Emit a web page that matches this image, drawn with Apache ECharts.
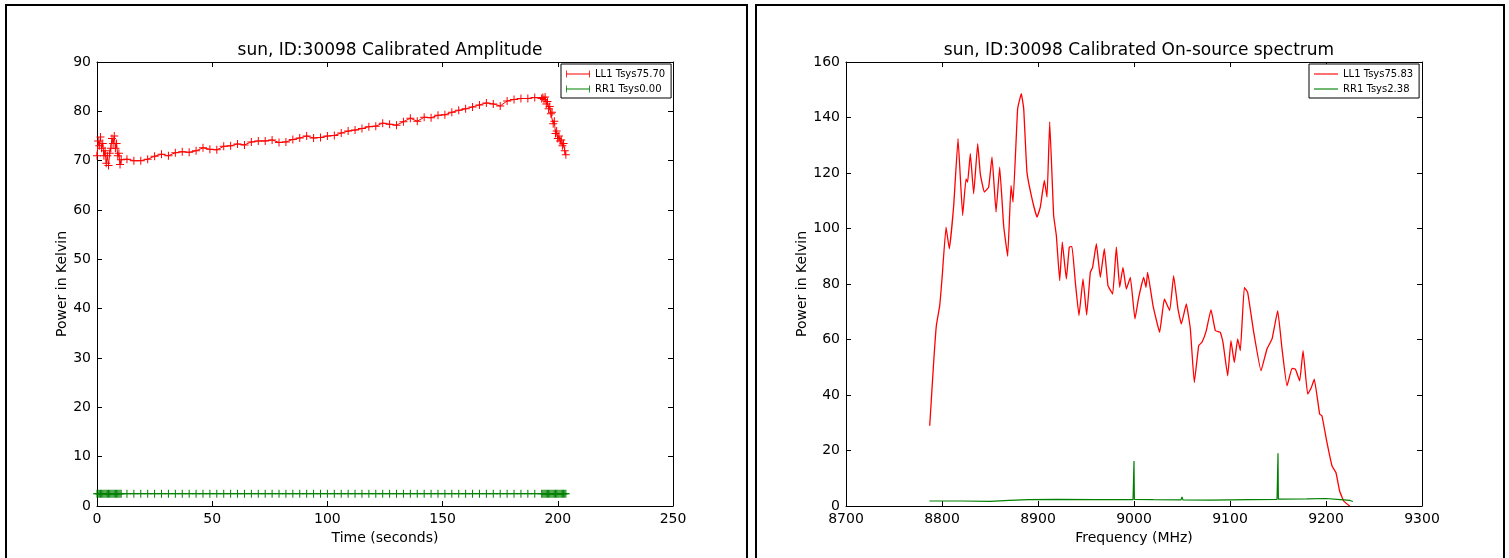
<!DOCTYPE html>
<html>
<head>
<meta charset="utf-8">
<script src="https://cdn.jsdelivr.net/npm/echarts@6/dist/echarts.min.js"></script>
<style>
  html, body { margin: 0; padding: 0; background: #fff; }
  #chart { width: 1509px; height: 558px; }
</style>
</head>
<body>
<div id="chart"></div>
<script>
// ---- left panel: calibrated amplitude vs time ----
var ampTime = [
  0, 0.5, 1, 1.5, 2, 2.5, 3, 3.5, 4, 4.5, 5, 5.5, 6, 6.5, 7, 7.5, 8, 8.5, 9, 9.5, 10, 10.5,
  13, 16, 19, 22, 25, 28, 31, 34, 37, 40, 43, 46, 49, 52, 55, 58, 61, 64, 67, 70,
  73, 76, 79, 82, 85, 88, 91, 94, 97, 100, 103, 106, 109, 112, 115, 118, 121, 124, 127, 130,
  133, 136, 139, 142, 145, 148, 151, 154, 157, 160, 163, 166, 169, 172, 175, 178, 181, 184, 187, 190,
  193, 193.5, 194, 194.5, 195, 195.5, 196, 196.5, 197, 197.5, 198, 198.5, 199, 199.5, 200, 200.5,
  201, 201.5, 202, 202.5, 203, 203.5
];
var ll1Amp = [
  71, 74, 73, 74.8, 72.5, 73.5, 71, 72, 69.5, 71, 69, 71.5, 72.5, 74.5, 73.5, 75, 72.5, 73.5, 71, 71.5, 69.2, 70.2,
  70.3, 70.0, 70.0, 70.3, 70.9, 71.3, 71.0, 71.6, 71.8, 71.7, 72.0, 72.6, 72.3, 72.2, 72.9, 73.0, 73.4, 73.2, 73.8, 74.0,
  74.0, 74.2, 73.7, 73.8, 74.3, 74.6, 75.0, 74.6, 74.7, 75.0, 75.1, 75.6, 76.0, 76.2, 76.5, 76.9, 77.0, 77.6, 77.4, 77.2,
  77.9, 78.6, 78.0, 78.8, 78.7, 79.2, 79.3, 79.8, 80.2, 80.5, 80.9, 81.3, 81.7, 81.5, 81.1, 82.1, 82.4, 82.6, 82.6, 82.8,
  82.6, 82.8, 82.4, 82.9, 81.5, 82.0, 80.5, 81.0, 79.5, 79.8, 77.5, 78.0, 75.5, 76.0, 74.5, 75.0,
  74.0, 74.2, 73.0, 73.5, 72.0, 71.2
];
var rr1Amp = [
  2.5, 2.5, 2.5, 2.5, 2.5, 2.5, 2.5, 2.5, 2.5, 2.5, 2.5, 2.5, 2.5, 2.5, 2.5, 2.5, 2.5, 2.5, 2.5, 2.5, 2.5, 2.5,
  2.5, 2.5, 2.5, 2.5, 2.5, 2.5, 2.5, 2.5, 2.5, 2.5, 2.5, 2.5, 2.5, 2.5, 2.5, 2.5, 2.5, 2.5, 2.5, 2.5,
  2.5, 2.5, 2.5, 2.5, 2.5, 2.5, 2.5, 2.5, 2.5, 2.5, 2.5, 2.5, 2.5, 2.5, 2.5, 2.5, 2.5, 2.5, 2.5, 2.5,
  2.5, 2.5, 2.5, 2.5, 2.5, 2.5, 2.5, 2.5, 2.5, 2.5, 2.5, 2.5, 2.5, 2.5, 2.5, 2.5, 2.5, 2.5, 2.5, 2.5,
  2.5, 2.5, 2.5, 2.5, 2.5, 2.5, 2.5, 2.5, 2.5, 2.5, 2.5, 2.5, 2.5, 2.5, 2.5, 2.5,
  2.5, 2.5, 2.5, 2.5, 2.5, 2.5
];

// ---- right panel: on-source spectrum ----
var ll1Freq = [
  8787.2, 8791.3, 8794.1, 8797.6, 8800, 8804.2, 8807.6, 8812.2, 8816.7, 8821.5,
  8825, 8826.7, 8829.5, 8833, 8837.2, 8839.9, 8844.1, 8848.6, 8852.1, 8856.3,
  8860.1, 8864.2, 8868.4, 8871.9, 8874, 8878.8, 8882.6, 8885.1, 8888.5, 8893.8,
  8899, 8902.4, 8906.6, 8909.4, 8912.2, 8916.3, 8919.1, 8922.6, 8925.3, 8929.5,
  8932.6, 8935.4, 8938.9, 8942.7, 8946.9, 8950.7, 8954.5, 8956.9, 8960.8, 8964.9,
  8969.1, 8972.9, 8977.8, 8981.6, 8985.1, 8988.5, 8992, 8996.2, 9001, 9004.9,
  9010.1, 9012.5, 9014.2, 9019.8, 9026.7, 9031.6, 9037.2, 9041.3, 9045.8, 9049.3,
  9054.5, 9058.7, 9062.8, 9067.4, 9070.8, 9075.3, 9080.2, 9084.7, 9089.9, 9092.7,
  9097.6, 9101, 9104.5, 9108, 9110.8, 9114.9, 9118.4, 9124.7, 9132.3, 9138.5,
  9143.8, 9149.7, 9154.2, 9159.4, 9164.6, 9168.1, 9172.6, 9176.1, 9180.9, 9184.4,
  9187.8, 9193.4, 9195.8, 9201, 9206.3, 9210.4, 9214.2, 9218.4, 9224.7
];
var ll1Spec = [
  28.9, 51.7, 65, 72.2, 81.8, 100.5, 92.7, 108.3, 132.4, 104.7,
  117.9, 116.7, 127, 112.5, 130.6, 119.7, 113.1, 114.9, 125.8, 105.9,
  122.1, 101.1, 90, 115.5, 109.5, 143.2, 148.6, 143.2, 120.3, 110.7,
  104.1, 107.7, 117.3, 111.3, 138.4, 104.7, 97.5, 81.2, 95.1, 81.8,
  93.3, 93.5, 80.6, 68.6, 81.8, 68.8, 84.2, 86, 94.5, 82.4,
  92.7, 79.4, 76.4, 93.3, 78.8, 86, 78.2, 82.4, 67.4, 75.2,
  82.4, 78.8, 84.2, 72.2, 62.6, 74.6, 70.4, 83, 71, 65.6,
  72.8, 63.8, 44.5, 57.8, 59, 63.2, 70.8, 63.2, 62.6, 59,
  46.9, 59.6, 51.7, 60.2, 56, 78.8, 77, 62.6, 48.7, 56.6,
  60.2, 70.4, 56.6, 43.3, 49.6, 49.3, 45.1, 56, 40.3, 42.4,
  45.7, 33.1, 32.5, 22.9, 14.4, 12, 5.4, 1.8, 0
];
var rr1Freq = [
  8787, 8820, 8850, 8870, 8890, 8920, 8960, 8999, 8999.6, 9000, 9000.4, 9020, 9049, 9050, 9051,
  9080, 9120, 9149, 9149.6, 9150, 9150.4, 9180, 9200, 9215, 9225, 9228
];
var rr1Spec = [
  1.8, 1.8, 1.7, 2.0, 2.3, 2.4, 2.3, 2.3, 2.3, 16.2, 2.4, 2.3, 2.2, 3.3, 2.2,
  2.1, 2.3, 2.4, 2.4, 19, 2.5, 2.6, 2.7, 2.3, 2.0, 1.6
];

function pairs(xs, ys) {
  return xs.map(function (x, i) { return [x, ys[i]]; });
}

var FONT = "DejaVu Sans";
var plus = "path://M0,3.5h8v1h-8z M3.5,0h1v8h-1z";
var markIcon = "path://M0,4h30v1h-30z M0,0h1v9h-1z M29,0h1v9h-1z";
var lineIcon = "path://M0,4h30v1.4h-30z";

function xAxisOf(grid, min, max, interval, name, top) {
  return {
    type: "value", gridIndex: grid, min: min, max: max, interval: interval,
    position: top ? "top" : "bottom",
    name: top ? "" : name, nameLocation: "middle", nameGap: 20,
    nameTextStyle: { color: "#000", fontSize: 14, fontFamily: FONT },
    axisLine: { show: true, onZero: false, lineStyle: { color: "#000", width: 1 } },
    axisTick: { show: true, inside: true, length: 5, lineStyle: { color: "#000" } },
    axisLabel: { show: !top, color: "#000", fontSize: 14, fontFamily: FONT, margin: 6,
      formatter: function (v) { return String(v); } },
    splitLine: { show: false },
  };
}
function yAxisOf(grid, min, max, interval, name, right, gap) {
  return {
    type: "value", gridIndex: grid, min: min, max: max, interval: interval,
    position: right ? "right" : "left",
    name: right ? "" : name, nameLocation: "middle", nameGap: gap,
    nameTextStyle: { color: "#000", fontSize: 14, fontFamily: FONT },
    axisLine: { show: true, onZero: false, lineStyle: { color: "#000", width: 1 } },
    axisTick: { show: true, inside: true, length: 5, lineStyle: { color: "#000" } },
    axisLabel: { show: !right, color: "#000", fontSize: 14, fontFamily: FONT, margin: 6 },
    splitLine: { show: false },
  };
}

var myChart = echarts.init(document.getElementById("chart"));
var option = {
  animation: false,
  backgroundColor: "#fff",
  graphic: [
    { type: "rect", shape: { x: 6, y: 5, width: 741, height: 570 }, style: { fill: "none", stroke: "#000", lineWidth: 2 } },
    { type: "rect", shape: { x: 756, y: 5, width: 748, height: 570 }, style: { fill: "none", stroke: "#000", lineWidth: 2 } },
  ],
  title: [
    { text: "sun, ID:30098 Calibrated Amplitude", left: 385, top: 37, textAlign: "center",
      textStyle: { color: "#000", fontSize: 17, fontWeight: "normal", fontFamily: FONT } },
    { text: "sun, ID:30098 Calibrated On-source spectrum", left: 1134, top: 37, textAlign: "center",
      textStyle: { color: "#000", fontSize: 17, fontWeight: "normal", fontFamily: FONT } },
  ],
  legend: [
    { data: [{ name: "LL1 Tsys75.70", icon: markIcon }, { name: "RR1 Tsys0.00", icon: markIcon }],
      orient: "vertical", left: 561, top: 64, itemWidth: 24, itemHeight: 8, itemGap: 5,
      padding: [5, 6, 4, 5], borderColor: "#000", borderWidth: 1, backgroundColor: "#fff",
      textStyle: { color: "#000", fontSize: 10, fontFamily: FONT } },
    { data: [{ name: "LL1 Tsys75.83", icon: lineIcon }, { name: "RR1 Tsys2.38", icon: lineIcon }],
      orient: "vertical", left: 1309, top: 64, itemWidth: 24, itemHeight: 8, itemGap: 5,
      padding: [5, 6, 4, 5], borderColor: "#000", borderWidth: 1, backgroundColor: "#fff",
      textStyle: { color: "#000", fontSize: 10, fontFamily: FONT } },
  ],
  grid: [
    { left: 97, top: 62, width: 576, height: 444 },
    { left: 846, top: 62, width: 576, height: 444 },
  ],
  xAxis: [
    xAxisOf(0, 0, 250, 50, "Time (seconds)", false),
    xAxisOf(0, 0, 250, 50, "", true),
    xAxisOf(1, 8700, 9300, 100, "Frequency (MHz)", false),
    xAxisOf(1, 8700, 9300, 100, "", true),
  ],
  yAxis: [
    yAxisOf(0, 0, 90, 10, "Power in Kelvin", false, 25),
    yAxisOf(0, 0, 90, 10, "", true, 0),
    yAxisOf(1, 0, 160, 20, "Power in Kelvin", false, 34),
    yAxisOf(1, 0, 160, 20, "", true, 0),
  ],
  series: [
    {
      name: "LL1 Tsys75.70", type: "line", xAxisIndex: 0, yAxisIndex: 0,
      data: pairs(ampTime, ll1Amp),
      symbol: plus, symbolSize: 8, showAllSymbol: true,
      lineStyle: { color: "#ff0000", width: 1 }, itemStyle: { color: "#ff0000" },
    },
    {
      name: "RR1 Tsys0.00", type: "line", xAxisIndex: 0, yAxisIndex: 0,
      data: pairs(ampTime, rr1Amp),
      symbol: plus, symbolSize: 8, showAllSymbol: true,
      lineStyle: { color: "#008000", width: 1 }, itemStyle: { color: "#008000" },
    },
    {
      name: "LL1 Tsys75.83", type: "line", xAxisIndex: 2, yAxisIndex: 2,
      data: pairs(ll1Freq, ll1Spec), smooth: 0.1,
      symbol: "none", lineStyle: { color: "#ff0000", width: 1.3 }, itemStyle: { color: "#ff0000" },
    },
    {
      name: "RR1 Tsys2.38", type: "line", xAxisIndex: 2, yAxisIndex: 2,
      data: pairs(rr1Freq, rr1Spec),
      symbol: "none", lineStyle: { color: "#008000", width: 1.2 }, itemStyle: { color: "#008000" },
    },
  ],
};
myChart.setOption(option);
</script>
</body>
</html>
